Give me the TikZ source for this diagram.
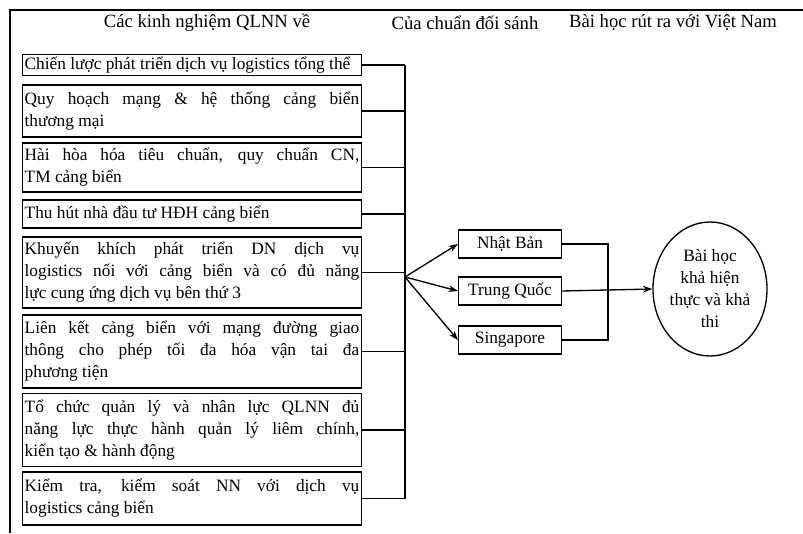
\documentclass[tikz,border=0pt]{standalone}
\usepackage{fontspec}
\setmainfont{Liberation Serif}
\usetikzlibrary{shapes.geometric,arrows.meta}
\begin{document}
\begin{tikzpicture}[x=0.75pt,y=-0.75pt,
  lbox/.style={draw, line width=1.1pt, text width=251pt, align=justify, inner xsep=1.5pt, inner ysep=0.5pt,
    font=\fontsize{13}{16.5}\selectfont},
  cbox/.style={draw, line width=1.1pt, minimum width=77pt, minimum height=21pt, inner sep=1pt, font=\fontsize{13}{15}\selectfont},
  conn/.style={line width=1pt},
  arr/.style={line width=1pt, -{Stealth[length=7pt,width=5pt]}},
  hdr/.style={font=\fontsize{14}{16}\selectfont, inner sep=0pt}]
\useasboundingbox (0,0) rectangle (803,533);
% frame
\draw[line width=0.8pt] (10,533) -- (10,10) -- (803,10);
% headers
\node[hdr] (h1) at (207,23) {Các kinh nghiệm QLNN về};
\node[hdr] (h2) at (465,23) {Của chuẩn đối sánh};
\node[hdr] (h3) at (673,23) {Bài học rút ra với Việt Nam};
% left boxes
\node[lbox, minimum height=15.5pt] (b1) at (192,65) {Chiến lược phát triển dịch vụ logistics tổng thể};
\node[lbox, minimum height=39pt] (b2) at (192,111) {Quy hoạch mạng \& hệ thống cảng biển\linebreak thương mại};
\node[lbox, minimum height=37pt] (b3) at (192,167.5) {Hài hòa hóa tiêu chuẩn, quy chuẩn CN,\linebreak TM cảng biển};
\node[lbox, minimum height=21pt] (b4) at (192,214) {Thu hút nhà đầu tư HĐH cảng biển};
\node[lbox, minimum height=53pt] (b5) at (192,272.5) {Khuyến khích phát triển DN dịch vụ\linebreak logistics nối với cảng biển và có đủ năng\linebreak lực cung ứng dịch vụ bên thứ 3};
\node[lbox, minimum height=55pt] (b6) at (192,351.5) {Liên kết cảng biển với mạng đường giao\linebreak thông cho phép tối đa hóa vận tai đa\linebreak phương tiện};
\node[lbox, minimum height=55pt] (b7) at (192,430) {Tổ chức quản lý và nhân lực QLNN đủ\linebreak năng lực thực hành quản lý liêm chính,\linebreak kiến tạo \& hành động};
\node[lbox, minimum height=40pt] (b8) at (192,498.5) {Kiểm tra, kiểm soát NN với dịch vụ\linebreak logistics cảng biển};
% bus
\coordinate (bx) at (405,0);
\coordinate (hub) at (405,277);
\foreach \b in {b1,b2,b3,b4,b5,b6,b7,b8} {\draw[conn] (\b.east) -- (\b.east -| bx);}
\draw[conn] (b1.east -| bx) -- (b8.east -| bx);
% countries
\node[cbox] (nb) at (510,244) {Nhật Bản};
\node[cbox] (tq) at (510,291) {Trung Quốc};
\node[cbox] (sg) at (510,340) {Singapore};
\draw[arr] (hub) -- (nb.west);
\draw[arr] (hub) -- (tq.west);
\draw[arr] (hub) -- (sg.west);
% lesson
\node[draw, ellipse, line width=1pt, minimum width=85.5pt, minimum height=100.5pt, inner sep=0pt, align=center,
  font=\fontsize{13}{16.5}\selectfont] (el) at (710,289) {Bài học\\khả hiện\\thực và khả\\thi};
\coordinate (rx) at (608,0);
\draw[conn] (nb.east) -- (nb.east -| rx) -- (sg.east -| rx) -- (sg.east);
\draw[arr] (tq.east) -- (el.west);
\end{tikzpicture}
\end{document}
